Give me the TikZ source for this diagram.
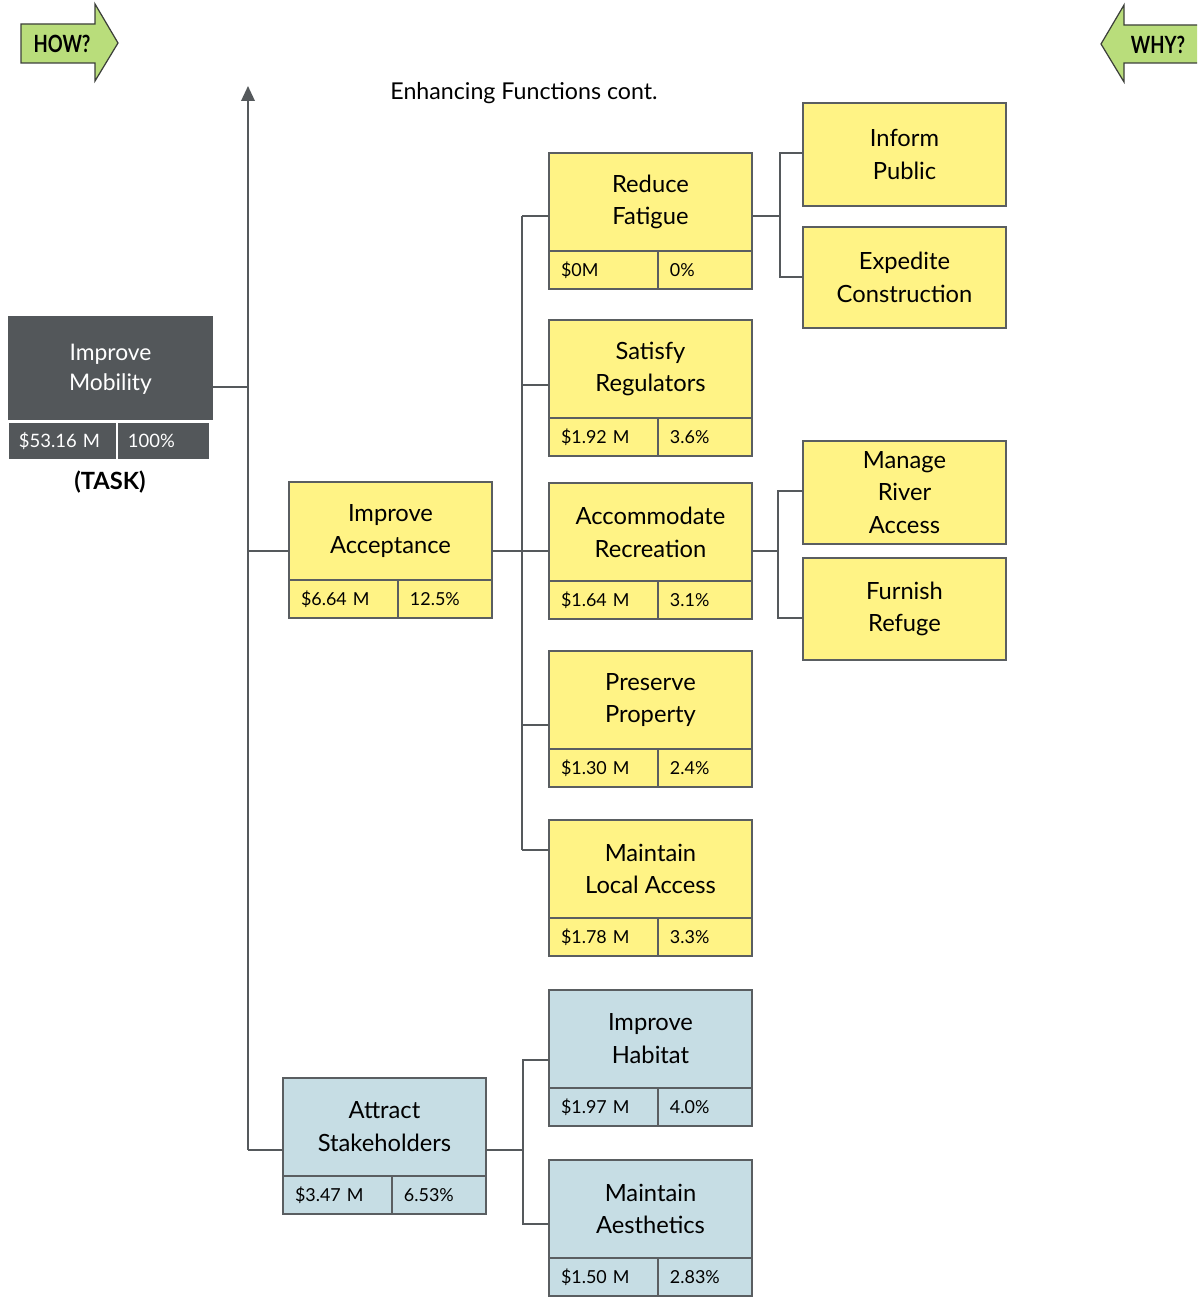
\documentclass[tikz,border=0pt]{standalone}
\usepackage{fontspec}
\setmainfont{Lato}
\newfontfamily\narrowfont[FakeStretch=0.78]{Lato}
\usetikzlibrary{arrows.meta}

\definecolor{edgegray}{HTML}{5A5E61}
\definecolor{linegray}{HTML}{55595C}
\definecolor{boxyellow}{HTML}{FFF385}
\definecolor{boxblue}{HTML}{C6DDE4}
\definecolor{taskgray}{HTML}{53575A}
\definecolor{cuegreen}{HTML}{B9DD7B}
\definecolor{cueedge}{HTML}{3C3F3A}

\tikzset{
  boxline/.style={draw=edgegray, line width=1.1pt, outer sep=0pt},
  headbox/.style={boxline, anchor=north west, minimum width=4.06cm,
    minimum height=1.96cm, inner sep=0pt, align=center,
    font=\fontsize{13.5}{18.7}\selectfont},
  cell/.style={boxline, anchor=north west, minimum height=0.76cm,
    inner xsep=0.24cm, inner ysep=0pt, align=left,
    font=\fontsize{10.2}{12}\selectfont},
  taskcell/.style={draw=white, line width=0.7pt, fill=taskgray, text=white,
    anchor=north west, minimum height=0.76cm, inner xsep=0.22cm,
    inner ysep=0pt, outer sep=0pt, align=left,
    font=\fontsize{10.5}{12}\selectfont},
  conn/.style={draw=linegray, line width=1.1pt},
  cue/.style={fill=cuegreen, draw=cueedge, line width=0.7pt, line join=miter},
  cuetext/.style={font=\narrowfont\bfseries\fontsize{13.5}{16}\selectfont, inner sep=0pt}
}

% a function box: title part with a cost cell and a share cell beneath
\newcommand\costbox[7]{%
  \node[headbox, fill=#4] (#1) at (#2,#3) {#5};
  \node[cell, fill=#4, text width=1.70cm] (#1-cost) at (#1.south west) {#6};
  \node[cell, fill=#4, text width=1.40cm] (#1-pct) at (#1-cost.north east) {#7};
}

\begin{document}
\begin{tikzpicture}[x=0.02cm, y=-0.02cm]
\useasboundingbox (0,0) rectangle (1197,1297);

% HOW? / WHY? direction cues
\draw[cue] (21,24) -- (95,24) -- (95,4) -- (118,43) -- (95,81) -- (95,63) -- (21,63) -- cycle;
\node[cuetext] (how) at (62,44) {HOW?};
\draw[cue] (1197,25) -- (1124,25) -- (1124,5) -- (1101,44) -- (1124,82) -- (1124,63) -- (1197,63);
\node[cuetext] (why) at (1158,45) {WHY?};

\node[font=\fontsize{13.2}{16}\selectfont] (title) at (524,93) {Enhancing Functions cont.};

% task
\node[fill=taskgray, text=white, anchor=north west, minimum width=4.10cm,
  minimum height=2.08cm, inner sep=0pt, outer sep=0pt, align=center,
  font=\fontsize{13}{17}\selectfont] (tm) at (8,316) {\\[-6pt]Improve\\Mobility};
\node[taskcell, text width=1.74cm] (tm-cost) at ([yshift=-0.04cm]tm.south west) {\$53.16 M};
\node[taskcell, text width=1.42cm] (tm-pct) at (tm-cost.north east) {100\%};
\node[font=\bfseries\fontsize{13.5}{16}\selectfont] (task) at (110,482) {(TASK)};

% second level
\costbox{ia}{289}{482}{boxyellow}{Improve\\Acceptance}{\$6.64 M}{12.5\%}
\costbox{as}{283}{1078}{boxblue}{Attract\\Stakeholders}{\$3.47 M}{6.53\%}

% third level
\costbox{rf}{549}{153}{boxyellow}{Reduce\\Fatigue}{\$0M}{0\%}
\costbox{sr}{549}{320}{boxyellow}{Satisfy\\Regulators}{\$1.92 M}{3.6\%}
\costbox{ar}{549}{483}{boxyellow}{Accommodate\\Recreation}{\$1.64 M}{3.1\%}
\costbox{pp}{549}{651}{boxyellow}{Preserve\\Property}{\$1.30 M}{2.4\%}
\costbox{ml}{549}{820}{boxyellow}{Maintain\\Local Access}{\$1.78 M}{3.3\%}
\costbox{ih}{549}{990}{boxblue}{Improve\\Habitat}{\$1.97 M}{4.0\%}
\costbox{ma}{549}{1160}{boxblue}{Maintain\\Aesthetics}{\$1.50 M}{2.83\%}

% fourth level
\node[headbox, fill=boxyellow, minimum height=2.06cm] (ip) at (803,103) {Inform\\Public};
\node[headbox, fill=boxyellow, minimum height=2.02cm] (ec) at (803,227) {Expedite\\Construction};
\node[headbox, fill=boxyellow, minimum height=2.06cm] (mr) at (803,441) {Manage\\River\\Access};
\node[headbox, fill=boxyellow, minimum height=2.04cm] (fr) at (803,558) {Furnish\\Refuge};

% spine with the arrow
\coordinate (spine-top) at (248,86);
\coordinate (spine-bot) at (248,1150);
\draw[conn, -{Triangle[length=0.30cm,width=0.27cm]}] (spine-bot) -- (spine-top);

% joints on the boxes
\coordinate (tm-out) at (213,387);
\coordinate (ia-in) at (289,551);
\coordinate (ia-out) at (492,551);
\coordinate (as-in) at (283,1150);
\coordinate (as-out) at (486,1150);
\coordinate (rf-in) at (549,216);
\coordinate (rf-out) at (752,216);
\coordinate (sr-in) at (549,385);
\coordinate (ar-in) at (549,551);
\coordinate (ar-out) at (752,551);
\coordinate (pp-in) at (549,725);
\coordinate (ml-in) at (549,850);
\coordinate (ih-in) at (549,1060);
\coordinate (ma-in) at (549,1224);
\coordinate (ip-in) at (803,153);
\coordinate (ec-in) at (803,277);
\coordinate (mr-in) at (803,491);
\coordinate (fr-in) at (803,618);

% bus lines
\coordinate (busA) at (522,0);
\coordinate (busB) at (780,0);
\coordinate (busC) at (778,0);
\coordinate (busD) at (523,0);

\draw[conn] (tm-out) -- (tm-out -| spine-top);
\draw[conn] (spine-top |- ia-in) -- (ia-in);
\draw[conn] (spine-bot) -- (as-in);

\draw[conn] (ia-out) -- (ia-out -| busA);
\draw[conn] (busA |- rf-in) -- (busA |- ml-in);
\foreach \c in {rf-in, sr-in, ar-in, pp-in, ml-in}
  \draw[conn] (busA |- \c) -- (\c);

\draw[conn] (rf-out) -- (rf-out -| busB);
\draw[conn] (ip-in) -| (busB |- ec-in) -- (ec-in);

\draw[conn] (ar-out) -- (ar-out -| busC);
\draw[conn] (mr-in) -| (busC |- fr-in) -- (fr-in);

\draw[conn] (as-out) -- (as-out -| busD);
\draw[conn] (ih-in) -| (busD |- ma-in) -- (ma-in);
\end{tikzpicture}
\end{document}
